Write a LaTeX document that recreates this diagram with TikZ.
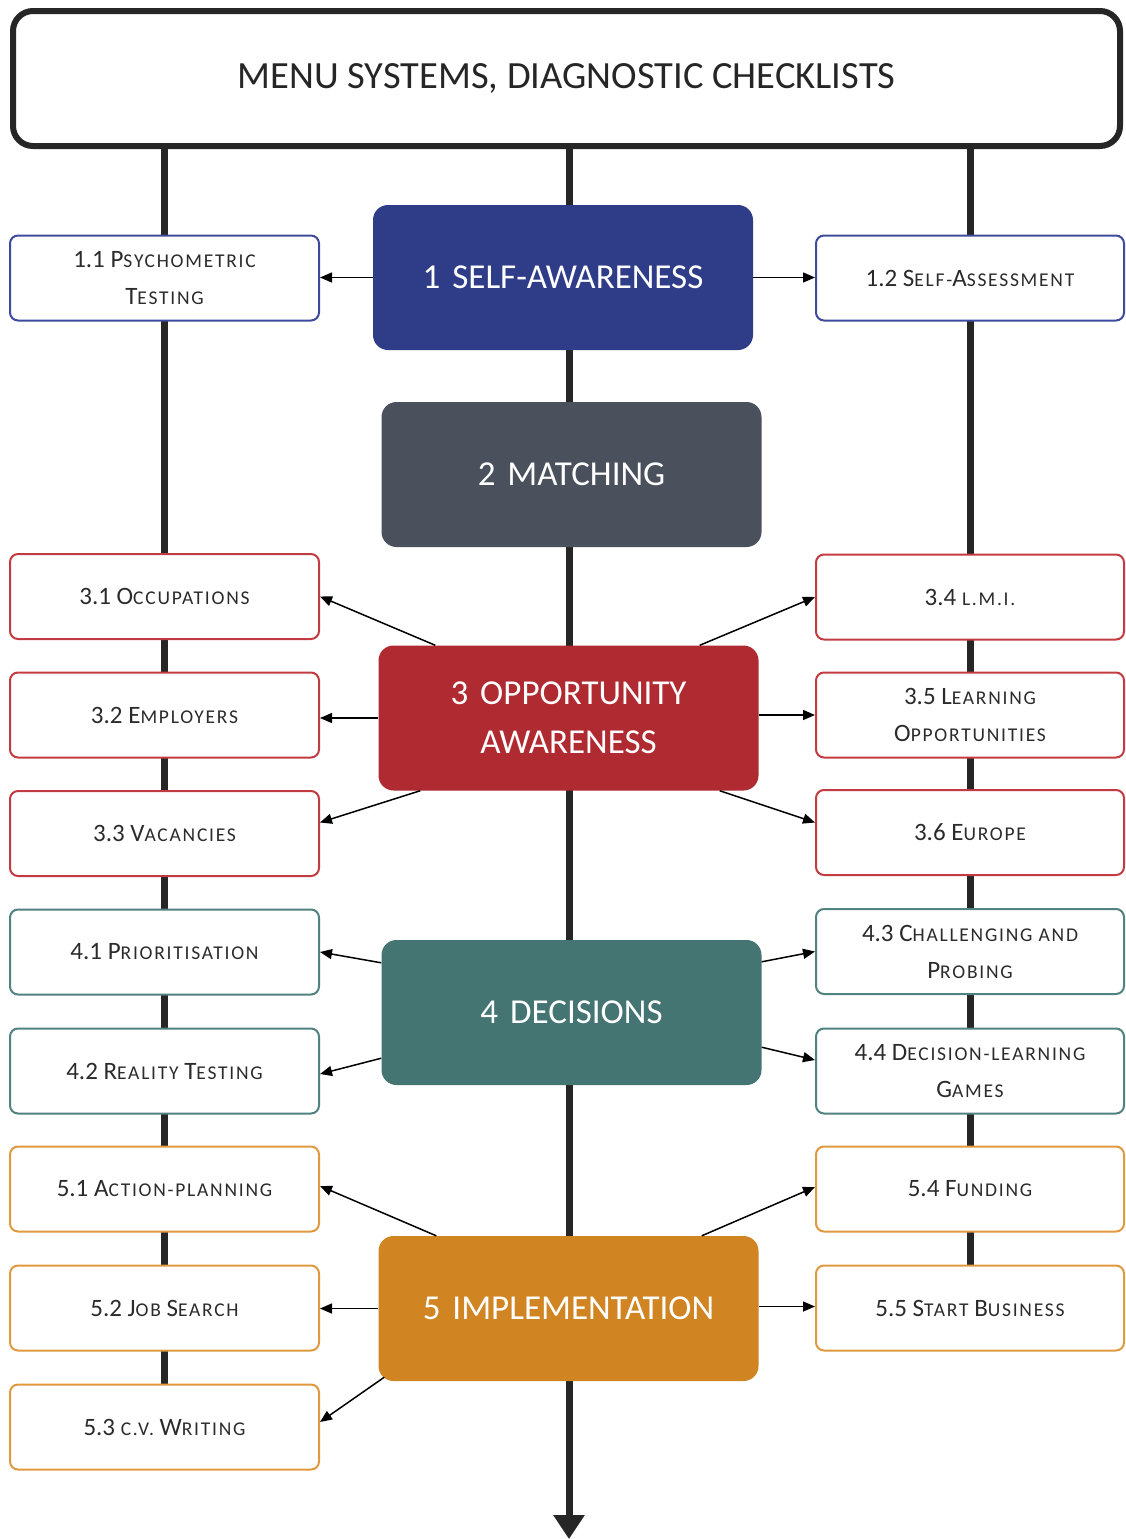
\documentclass[tikz,border=0pt]{standalone}
\usepackage{fontspec}
\setmainfont{Carlito}
\newfontfamily\scfam[LetterSpace=9]{Carlito}
\usetikzlibrary{arrows.meta}

\definecolor{ink}{HTML}{262626}
\definecolor{txt}{HTML}{2B2B2B}
\definecolor{navy}{HTML}{2F3C88}
\definecolor{slate}{HTML}{4A505C}
\definecolor{wine}{HTML}{B02A31}
\definecolor{teal}{HTML}{457573}
\definecolor{amber}{HTML}{D08522}
\definecolor{navyl}{HTML}{3E4A9C}
\definecolor{winel}{HTML}{C23B41}
\definecolor{teall}{HTML}{50827F}
\definecolor{amberl}{HTML}{E0993F}

\newcommand\bodyfont{\fontsize{25}{37}\selectfont}
\newcommand\smc[1]{{\scfam\fontsize{19.5}{37}\selectfont #1}}

\pgfdeclarelayer{bg}
\pgfsetlayers{bg,main}

\begin{document}
\begin{tikzpicture}[x=1pt,y=-1pt,
  sidebox/.style={draw, line width=2pt, rounded corners=8pt, fill=white,
    minimum width=309pt, minimum height=85pt, align=center, text=txt,
    font=\bodyfont, inner sep=0pt},
  lbox/.style={sidebox},
  rbox/.style={sidebox, minimum width=308pt},
  mainbox/.style={rounded corners=15pt, minimum width=380pt, minimum height=145pt,
    align=center, text=white, font=\fontsize{35}{49}\selectfont, inner sep=0pt},
  spine/.style={line width=7pt, draw=ink},
  arr/.style={line width=1.5pt, draw=black, -{Triangle[length=12pt,width=10pt]}}
]
\useasboundingbox (0,0) rectangle (1125,1539);

% title banner
\node[draw=ink, line width=6pt, rounded corners=20pt, fill=white,
  minimum width=1107pt, minimum height=135pt, text=ink,
  font=\fontsize{38.5}{42}\selectfont, inner sep=0pt]
  (title) at (566.5,78.5) {MENU SYSTEMS, DIAGNOSTIC CHECKLISTS};

% stage boxes on the central axis
\node[mainbox, fill=navy]  (c1) at (563,277.5)   {1\hspace{12pt}SELF-AWARENESS};
\node[mainbox, fill=slate] (c2) at (571.5,474.5) {2\hspace{12pt}MATCHING};
\node[mainbox, fill=wine]  (c3) at (568.5,718)   {3\hspace{12pt}OPPORTUNITY\\AWARENESS};
\node[mainbox, fill=teal]  (c4) at (571.5,1012.5){4\hspace{12pt}DECISIONS};
\node[mainbox, fill=amber] (c5) at (568.5,1308.5){5\hspace{12pt}IMPLEMENTATION};

% left column
\node[lbox, draw=navyl]  (b11) at (164.5,278)   {1.1 P\smc{SYCHOMETRIC}\\T\smc{ESTING}};
\node[lbox, draw=winel]  (b31) at (164.5,596.5) {3.1 O\smc{CCUPATIONS}};
\node[lbox, draw=winel]  (b32) at (164.5,715)   {3.2 E\smc{MPLOYERS}};
\node[lbox, draw=winel]  (b33) at (164.5,833.5) {3.3 V\smc{ACANCIES}};
\node[lbox, draw=teall]  (b41) at (164.5,952)   {4.1 P\smc{RIORITISATION}};
\node[lbox, draw=teall]  (b42) at (164.5,1071)  {4.2 R\smc{EALITY} T\smc{ESTING}};
\node[lbox, draw=amberl] (b51) at (164.5,1189)  {5.1 A\smc{CTION-PLANNING}};
\node[lbox, draw=amberl] (b52) at (164.5,1308)  {5.2 J\smc{OB} S\smc{EARCH}};
\node[lbox, draw=amberl] (b53) at (164.5,1427)  {5.3 \smc{C.V.} W\smc{RITING}};

% right column
\node[rbox, draw=navyl]  (b12) at (970,278)    {1.2 S\smc{ELF-}A\smc{SSESSMENT}};
\node[rbox, draw=winel]  (b34) at (970,597)    {3.4 \smc{L.M.I.}};
\node[rbox, draw=winel]  (b35) at (970,715)    {3.5 L\smc{EARNING}\\O\smc{PPORTUNITIES}};
\node[rbox, draw=winel]  (b36) at (970,832.5)  {3.6 E\smc{UROPE}};
\node[rbox, draw=teall]  (b43) at (970,951.5)  {4.3 C\smc{HALLENGING AND}\\P\smc{ROBING}};
\node[rbox, draw=teall]  (b44) at (970,1071)   {4.4 D\smc{ECISION-LEARNING}\\G\smc{AMES}};
\node[rbox, draw=amberl] (b54) at (970,1189)   {5.4 F\smc{UNDING}};
\node[rbox, draw=amberl] (b55) at (970,1308)   {5.5 S\smc{TART} B\smc{USINESS}};

\coordinate (axisend) at (569,1539);

% spines behind the boxes
\begin{pgfonlayer}{bg}
  \fill[white] (0,0) rectangle (1125,1539);
  \draw[spine] (title.south -| b11) -- (b53.north);
  \draw[spine] (title.south -| b12) -- (b55.north);
  \draw[spine, -{Triangle[length=24pt,width=30pt]}] (title.south -| axisend) -- (axisend);
\end{pgfonlayer}

% stage 1
\draw[arr] (c1.west) -- (c1.west -| b11.east);
\draw[arr] (c1.east) -- (c1.east -| b12.west);
% stage 3
\draw[arr] ([xshift=57pt]c3.north west) -- (b31.east);
\draw[arr] (c3.west) -- (c3.west -| b32.east);
\draw[arr] ([xshift=42pt]c3.south west) -- ([yshift=11pt]b33.east);
\draw[arr] ([xshift=-59pt]c3.north east) -- (b34.west);
\draw[arr] ([yshift=3pt]c3.east) -- ([yshift=3pt]c3.east -| b35.west);
\draw[arr] ([xshift=-39pt]c3.south east) -- ([yshift=10pt]b36.west);
% stage 4
\draw[arr] ([yshift=-23pt]c4.north west) -- (b41.east);
\draw[arr] ([yshift=27pt]c4.south west) -- ([yshift=-3pt]b42.east);
\draw[arr] ([yshift=-22pt]c4.north east) -- (b43.west);
\draw[arr] ([yshift=38pt]c4.south east) -- ([yshift=11pt]b44.west);
% stage 5
\draw[arr] ([xshift=58pt]c5.north west) -- ([yshift=3pt]b51.east);
\draw[arr] (c5.west) -- (c5.west -| b52.east);
\draw[arr] ([xshift=6pt,yshift=4pt]c5.south west) -- ([yshift=5pt]b53.east);
\draw[arr] ([xshift=-57pt]c5.north east) -- ([yshift=2pt]b54.west);
\draw[arr] ([yshift=2pt]c5.east) -- ([yshift=2pt]c5.east -| b55.west);
\end{tikzpicture}
\end{document}
